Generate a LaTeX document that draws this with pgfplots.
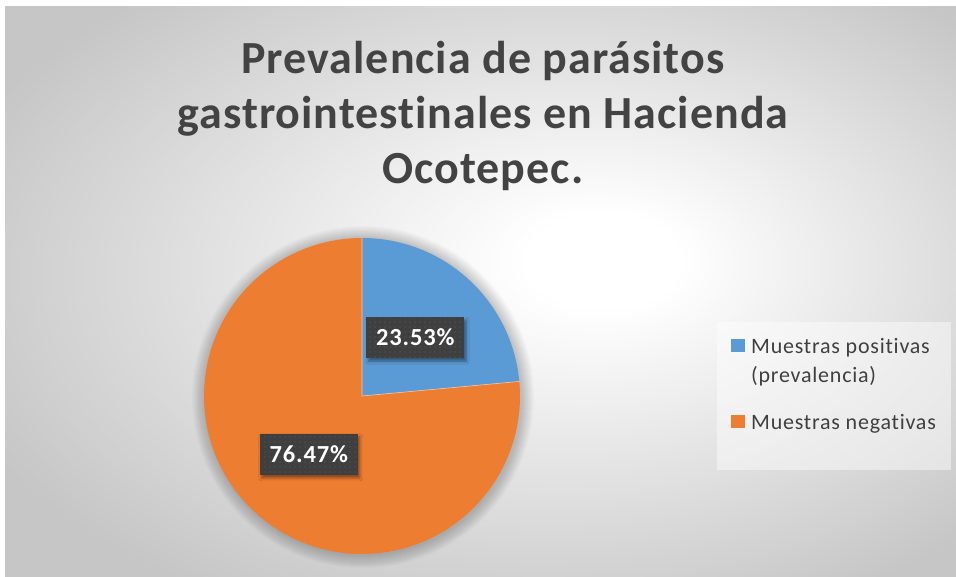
\documentclass[border=0pt]{standalone}
\usepackage{fontspec}
\setmainfont{Carlito}[Ligatures=NoCommon]
\usepackage{pgfplots}
\usepackage{pgfplotstable}
\pgfplotsset{compat=1.18}
\usetikzlibrary{patterns.meta, shadows.blur}

\definecolor{cblue}{HTML}{5B9BD5}
\definecolor{corange}{HTML}{ED7D31}
\definecolor{txt}{HTML}{404040}
\definecolor{ttl}{HTML}{434343}
\definecolor{bgedge}{HTML}{C6C6C6}
\definecolor{lblbg}{HTML}{3F3F3F}
\definecolor{lbldot}{HTML}{5E5E5E}

\pgfdeclareradialshading{chartbg}{\pgfpoint{7bp}{3bp}}{%
  color(0bp)=(white); color(4bp)=(white); color(32bp)=(bgedge); color(50bp)=(bgedge)}

\tikzset{
    lbl/.style={
        fill=lblbg, text=white,
        font=\bfseries\fontsize{24.5}{28}\selectfont\addfontfeatures{LetterSpace=3.5},
        minimum width=98pt, minimum height=41pt, inner sep=0pt,
        blur shadow={shadow xshift=2pt, shadow yshift=-3pt,
            shadow blur radius=3pt, shadow opacity=45},
        postaction={pattern={Dots[distance=5pt, radius=0.7pt]}, pattern color=lbldot},
    },
}

% porcentaje de muestras
\pgfplotstableread{
grupo valor
positivas 23.53
negativas 76.47
}\piedata

\begin{document}
\begin{tikzpicture}
\pgfplotstablegetelem{0}{valor}\of\piedata \let\vA\pgfplotsretval
\pgfplotstablegetelem{1}{valor}\of\piedata \let\vB\pgfplotsretval
% pie centre and radius (axis units = pt)
\def\cx{362}\def\cy{396}\def\rr{158}
\pgfmathsetmacro\aEnd{90-3.6*\vA}
\pgfmathsetmacro\bx{\cx+\rr*cos(\aEnd)}
\pgfmathsetmacro\by{\cy-\rr*sin(\aEnd)}
\pgfmathsetmacro\topy{\cy-\rr}
\pgfmathsetmacro\mA{90-1.8*\vA}
\pgfmathsetmacro\mB{\aEnd-1.8*\vB}
\pgfmathsetmacro\lAx{\cx+0.5*\rr*cos(\mA)}
\pgfmathsetmacro\lAy{\cy-0.5*\rr*sin(\mA)}
\pgfmathsetmacro\lBx{\cx+0.5*\rr*cos(\mB)}
\pgfmathsetmacro\lBy{\cy-0.5*\rr*sin(\mB)}
\begin{axis}[
    x=1pt, y=1pt,
    xmin=0, xmax=956, ymin=0, ymax=577,
    y dir=reverse,
    hide axis,
    clip=false,
    legend image code/.code={\fill[#1, draw=none] (0pt,-14pt) rectangle (13.5pt,-0.5pt);},
    legend style={
        at={(axis cs:731,338)}, anchor=north west,
        draw=none, fill=none, inner sep=0pt,
        font=\fontsize{22}{29}\selectfont\addfontfeatures{LetterSpace=3.5}, text=txt,
        nodes={inner sep=0pt},
        cells={anchor=north west, align=left},
        column sep=6.5pt, row sep=30pt,
    },
]
\fill[white] (0,0) rectangle (956,577);
\shade[shading=chartbg] (5,7) rectangle (956,577);
\fill[white, fill opacity=0.45] (717,322) rectangle (951,470);

\node[font=\bfseries\fontsize{46}{55}\selectfont\addfontfeatures{LetterSpace=2.2}, text=ttl, align=center, anchor=base]
    at (483,184) {Prevalencia de parásitos\\gastrointestinales en Hacienda\\Ocotepec.};

% soft glow round the pie: stacked faint rings
\pgfplotsinvokeforeach{1,...,13}{
    \fill[black, fill opacity=0.017] (\cx+1,\cy+1) circle[radius={(\rr+#1)*1pt}];
}

\addplot[fill=cblue, draw=none]
    coordinates {(\cx,\cy) (\cx,\topy)}
    arc[start angle=90, end angle=\aEnd, radius=\rr pt] -- cycle;
\addlegendentry{Muestras positivas\\(prevalencia)}

\addplot[fill=corange, draw=none]
    coordinates {(\cx,\cy) (\bx,\by)}
    arc[start angle=\aEnd, end angle=-270, radius=\rr pt] -- cycle;
\addlegendentry{Muestras negativas}

% thin light border between the slices
\draw[white!55!corange, line width=0.6pt] (\cx,\topy) -- (\cx,\cy) -- (\bx,\by);

\node[lbl] at (\lAx,\lAy) {\pgfmathprintnumber[fixed,precision=2,fixed zerofill,assume math mode=true]{\vA}\%};
\node[lbl] at (\lBx,\lBy) {\pgfmathprintnumber[fixed,precision=2,fixed zerofill,assume math mode=true]{\vB}\%};
\end{axis}
\end{tikzpicture}
\end{document}
